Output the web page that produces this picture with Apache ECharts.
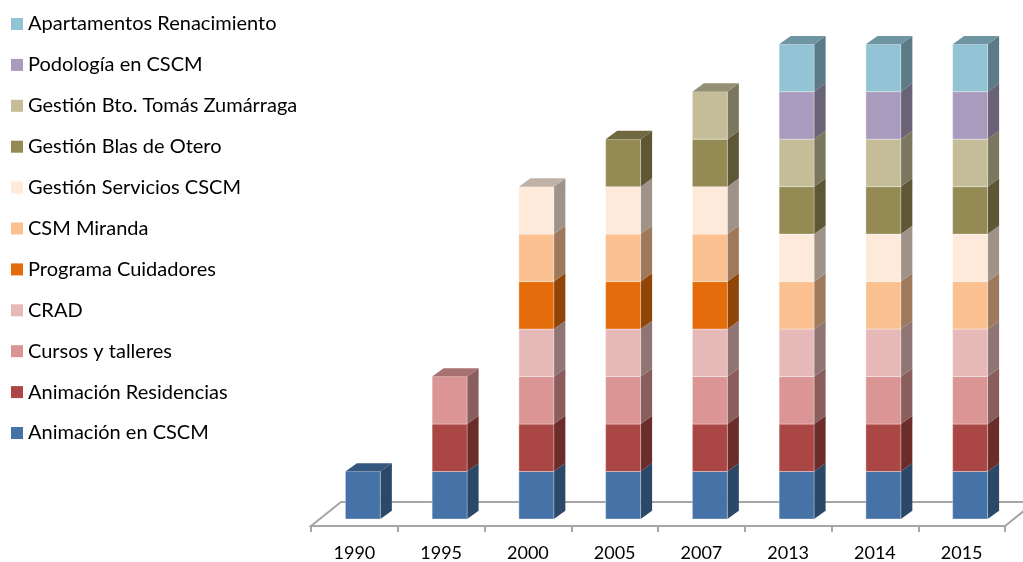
<!DOCTYPE html>
<html>
<head>
<meta charset="utf-8">
<script src="https://cdn.jsdelivr.net/npm/echarts@6/dist/echarts.min.js"></script>
<style>
  html, body { margin: 0; padding: 0; background: #fff; }
  #chart { width: 1023px; height: 562px; }
</style>
</head>
<body>
<div id="chart"></div>
<script>
// Years on the category axis
const categories = ['1990', '1995', '2000', '2005', '2007', '2013', '2014', '2015'];

// One unit per active service, per year (stacked bottom to top)
const animacionCSCM        = [1, 1, 1, 1, 1, 1, 1, 1];
const animacionResidencias = [0, 1, 1, 1, 1, 1, 1, 1];
const cursosTalleres       = [0, 1, 1, 1, 1, 1, 1, 1];
const crad                 = [0, 0, 1, 1, 1, 1, 1, 1];
const programaCuidadores   = [0, 0, 1, 1, 1, 0, 0, 0];
const csmMiranda           = [0, 0, 1, 1, 1, 1, 1, 1];
const gestionServicios     = [0, 0, 1, 1, 1, 1, 1, 1];
const gestionBlasOtero     = [0, 0, 0, 1, 1, 1, 1, 1];
const gestionBtoTomas      = [0, 0, 0, 0, 1, 1, 1, 1];
const podologia            = [0, 0, 0, 0, 0, 1, 1, 1];
const apartamentos         = [0, 0, 0, 0, 0, 1, 1, 1];

const seriesNames = [
  'Animación en CSCM', 'Animación Residencias', 'Cursos y talleres', 'CRAD',
  'Programa Cuidadores', 'CSM Miranda', 'Gestión Servicios CSCM',
  'Gestión Blas de Otero', 'Gestión Bto. Tomás Zumárraga', 'Podología en CSCM',
  'Apartamentos Renacimiento'
];
const seriesValues = [
  animacionCSCM, animacionResidencias, cursosTalleres, crad, programaCuidadores,
  csmMiranda, gestionServicios, gestionBlasOtero, gestionBtoTomas, podologia, apartamentos
];
const seriesColors = [
  '#4572A7', '#AA4643', '#DB9594', '#E6B9B8', '#E46C0A', '#FAC090',
  '#FDEADA', '#948A54', '#C4BD97', '#A99BBD', '#93C4D5'
];

// Darken a hex colour by a factor
function shade(hex, f) {
  const n = parseInt(hex.slice(1), 16);
  const r = Math.round(((n >> 16) & 255) * f);
  const g = Math.round(((n >> 8) & 255) * f);
  const b = Math.round((n & 255) * f);
  return 'rgb(' + r + ',' + g + ',' + b + ')';
}

// Perspective offsets of the 3D look
const FLOOR_DX = 30, FLOOR_DY = 24;   // depth of the floor plane
const BAR_SHIFT_X = 8.5, BAR_SHIFT_Y = 7; // bars sit slightly back on the floor
const BAR_DX = 11.5, BAR_DY = 8.3;    // depth of each column
const BAR_RATIO = 0.403;              // column width relative to band

// Running totals for manual stacking
const running = categories.map(() => 0);
const stackedSeries = seriesValues.map((vals, si) => {
  const data = vals.map((v, ci) => {
    const start = running[ci];
    running[ci] += v;
    return [ci, start, start + v];
  });
  return {
    name: seriesNames[si],
    type: 'custom',
    itemStyle: { color: seriesColors[si] },
    encode: { x: 0, y: 2 },
    data: data,
    renderItem: function (params, api) {
      const ci = api.value(0), s = api.value(1), e = api.value(2);
      if (e <= s) return null;
      const p0 = api.coord([ci, s]);
      const p1 = api.coord([ci, e]);
      const w = api.size([1, 0])[0] * BAR_RATIO;
      const x0 = p0[0] + BAR_SHIFT_X - w / 2;
      const x1 = x0 + w;
      const yb = p0[1] - BAR_SHIFT_Y;
      const yt = p1[1] - BAR_SHIFT_Y;
      const base = seriesColors[si];
      const topOfStack = (e === running[ci]);
      const children = [
        { type: 'polygon', shape: { points: [[x1, yb], [x1 + BAR_DX, yb - BAR_DY], [x1 + BAR_DX, yt - BAR_DY], [x1, yt]] },
          style: { fill: shade(base, 0.63) } },
        { type: 'rect', shape: { x: x0, y: yt, width: w, height: yb - yt },
          style: { fill: base, stroke: 'rgba(255,255,255,0.35)', lineWidth: 1 } }
      ];
      if (topOfStack) {
        children.push({ type: 'polygon', shape: { points: [[x0, yt], [x1, yt], [x1 + BAR_DX, yt - BAR_DY], [x0 + BAR_DX, yt - BAR_DY]] },
          style: { fill: shade(base, 0.76) } });
      }
      return { type: 'group', children: children };
    }
  };
});

// Floor plane outline drawn from the grid rectangle
const floorSeries = {
  type: 'custom',
  silent: true,
  z: 1,
  data: [[0, 0]],
  renderItem: function (params, api) {
    const cs = params.coordSys;
    const yf = cs.y + cs.height;
    const xl = cs.x, xr = cs.x + cs.width;
    return {
      type: 'polygon',
      shape: { points: [[xl, yf], [xr, yf], [xr + FLOOR_DX, yf - FLOOR_DY], [xl + FLOOR_DX, yf - FLOOR_DY]] },
      style: { fill: 'none', stroke: '#a6a6a6', lineWidth: 2 }
    };
  }
};

const chart = echarts.init(document.getElementById('chart'), null, { renderer: 'canvas' });
chart.setOption({
  animation: false,
  backgroundColor: '#ffffff',
  textStyle: { fontFamily: 'Lato' },
  legend: {
    orient: 'vertical',
    left: 11,
    top: 14,
    padding: 0,
    itemWidth: 12,
    itemHeight: 12,
    itemGap: 20.9,
    icon: 'rect',
    data: seriesNames.slice().reverse(),
    textStyle: { fontFamily: 'Lato', fontSize: 20, lineHeight: 20, color: '#000' }
  },
  grid: { left: 311, right: 18, top: 3.7, bottom: 35 },
  xAxis: {
    type: 'category',
    data: categories,
    boundaryGap: true,
    axisLine: { show: false },
    axisTick: { show: true, length: 6, alignWithLabel: false, lineStyle: { color: '#a6a6a6', width: 2 } },
    axisLabel: { fontFamily: 'Lato', fontSize: 18, color: '#000', margin: 18 }
  },
  yAxis: { type: 'value', min: 0, max: 11, show: false, splitLine: { show: false } },
  series: [floorSeries].concat(stackedSeries)
});
</script>
</body>
</html>
